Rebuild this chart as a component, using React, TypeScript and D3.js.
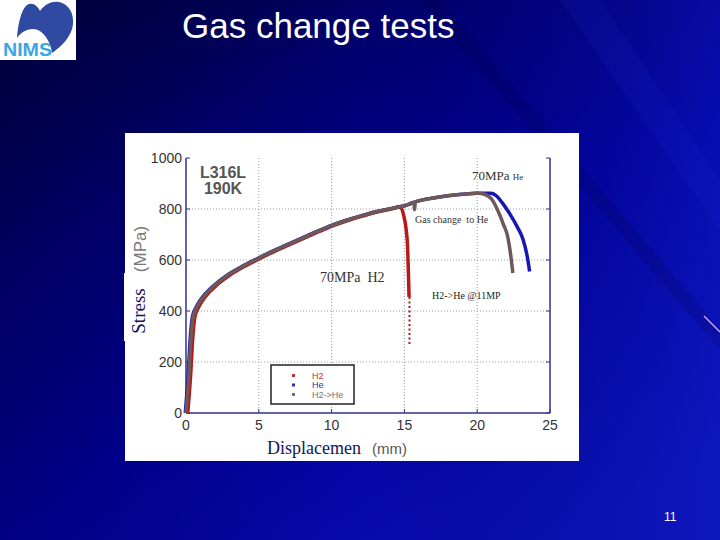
import React from "react";
import * as d3 from "d3";

// ---- data (displacement mm, stress MPa) ----
const mainX = [0, 0.2, 0.35, 0.5, 0.7, 1, 1.5, 2, 3, 4, 5, 6, 7, 8, 9, 10, 11, 12, 13, 14, 14.6];
const mainY = [0, 150, 300, 380, 410, 440, 475, 502, 545, 578, 607, 635, 660, 686, 711, 735, 755, 772, 788, 800, 808];

const h2TailX = [14.85, 15.0, 15.1, 15.15, 15.2];
const h2TailY = [770, 720, 650, 560, 455];
const h2DotX = [15.35, 15.35];
const h2DotY = [455, 267];

const heTailX = [15, 16, 17, 18, 19, 20, 21, 21.4, 21.8, 22.3, 22.8, 23.2, 23.5, 23.65];
const heTailY = [812, 832, 843, 852, 858, 862, 862, 850, 822, 780, 730, 680, 610, 555];

const chTailX = [15, 15.65, 15.7, 15.75, 16, 17, 18, 19, 20, 20.5, 21, 21.4, 21.8, 22.1, 22.3, 22.45];
const chTailY = [812, 826, 797, 827, 832, 843, 852, 858, 862, 858, 838, 796, 740, 690, 620, 549];

const xTicks = [0, 5, 10, 15, 20, 25];
const yTicks = [0, 200, 400, 600, 800, 1000];
const legendLabels = ["H2", "He", "H2->He"];
const legendColors = ["#c03030", "#3030a8", "#7a7070"];

const zip = (xs: number[], ys: number[]) => xs.map((x, i) => [x, ys[i]] as [number, number]);

export default function App() {
  const x = d3.scaleLinear().domain([0, 25]).range([186, 550]);
  const y = d3.scaleLinear().domain([0, 1000]).range([413, 158]);
  const line = d3
    .line<[number, number]>()
    .x((d) => x(d[0]))
    .y((d) => y(d[1]))
    .curve(d3.curveMonotoneX);
  const lineLin = d3
    .line<[number, number]>()
    .x((d) => x(d[0]))
    .y((d) => y(d[1]));

  const main = zip(mainX, mainY);
  const redPts = [...main, ...zip(h2TailX, h2TailY)];
  const bluePts = [...main, ...zip(heTailX, heTailY)];
  const grayPts = [...main, ...zip(chTailX, chTailY)];

  const shift = (pts: [number, number][], dx: number) => pts.map((p) => [p[0] + dx, p[1]] as [number, number]);

  return (
    <svg width={720} height={540} style={{ position: "absolute", left: 0, top: 0 }}>
      <defs>
        <linearGradient id="bg" x1="0" y1="0" x2="0.8" y2="1">
          <stop offset="0" stopColor="#000038" />
          <stop offset="0.3" stopColor="#000070" />
          <stop offset="0.6" stopColor="#00009c" />
          <stop offset="1" stopColor="#0a10b4" />
        </linearGradient>
        <linearGradient id="bg2" x1="0" y1="0" x2="1" y2="0">
          <stop offset="0" stopColor="#000030" stopOpacity="0.25" />
          <stop offset="0.5" stopColor="#000030" stopOpacity="0" />
          <stop offset="1" stopColor="#1828d8" stopOpacity="0.3" />
        </linearGradient>
      </defs>
      <rect x={0} y={0} width={720} height={540} fill="url(#bg)" />
      <rect x={0} y={0} width={720} height={540} fill="url(#bg2)" />
      <polygon points="560,0 600,0 720,180 720,230" fill="#2030e0" opacity={0.12} />
      <polygon points="420,0 440,0 720,330 720,350" fill="#000030" opacity={0.15} />
      <line x1={704} y1={316} x2={720} y2={332} stroke="#c8a8ff" strokeWidth={1.5} />

      {/* logo */}
      <rect x={0} y={0} width={76} height={60} fill="#ffffff" />
      <path
        d="M17,38 C18,24 21,10 27,5 C32,2 37,5 40,11 C45,4 52,1 59,2 C68,4 74,12 73,24 C72,36 62,46 52,53 C51,44 46,34 38,30 C30,27 22,31 17,38 Z"
        fill="#2f4aa0"
      />
      <text x={3} y={56} fontFamily="Liberation Sans, Arial, sans-serif" fontWeight="bold" fontSize={19} fill="#3aa6e6" textLength={49} lengthAdjust="spacingAndGlyphs">
        NIMS
      </text>

      {/* title */}
      <text x={182} y={38} fontFamily="Liberation Sans, Arial, sans-serif" fontSize={35} fill="#ffffff">
        Gas change tests
      </text>

      {/* chart panel */}
      <rect x={125} y={133} width={454} height={328} fill="#ffffff" />

      {/* grid */}
      {xTicks.slice(1, 5).map((t) => (
        <line key={"gx" + t} x1={x(t)} x2={x(t)} y1={y(1000)} y2={y(0)} stroke="#9a9aa8" strokeWidth={1} strokeDasharray="1,2" />
      ))}
      {yTicks.slice(1, 5).map((t) => (
        <line key={"gy" + t} x1={x(0)} x2={x(25)} y1={y(t)} y2={y(t)} stroke="#9a9aa8" strokeWidth={1} strokeDasharray="1,2" />
      ))}

      {/* axes frame */}
      <line x1={x(0)} x2={x(0)} y1={y(1000)} y2={y(0)} stroke="#303090" strokeWidth={1.5} />
      <line x1={x(25)} x2={x(25)} y1={y(1000)} y2={y(0)} stroke="#303090" strokeWidth={1.5} />
      <line x1={x(0)} x2={x(25)} y1={y(0)} y2={y(0)} stroke="#303090" strokeWidth={1.5} />
      {yTicks.map((t) => (
        <g key={"ty" + t}>
          <line x1={x(0)} x2={x(0) + 4} y1={y(t)} y2={y(t)} stroke="#303090" strokeWidth={1} />
          <line x1={x(25)} x2={x(25) - 4} y1={y(t)} y2={y(t)} stroke="#303090" strokeWidth={1} />
          <text x={182} y={y(t) + 5} textAnchor="end" fontFamily="Liberation Sans, Arial, sans-serif" fontSize={14} fill="#333">
            {t}
          </text>
        </g>
      ))}
      {xTicks.map((t) => (
        <g key={"tx" + t}>
          <line x1={x(t)} x2={x(t)} y1={y(0)} y2={y(0) - 4} stroke="#303090" strokeWidth={1} />
          <text x={x(t)} y={430} textAnchor="middle" fontFamily="Liberation Sans, Arial, sans-serif" fontSize={14} fill="#333">
            {t}
          </text>
        </g>
      ))}

      {/* curves */}
      <path d={line(shift(redPts, 0.12)) || ""} fill="none" stroke="#b81818" strokeWidth={3.5} strokeLinejoin="round" />
      <path d={lineLin(zip(h2DotX, h2DotY)) || ""} fill="none" stroke="#a01818" strokeWidth={2} strokeDasharray="2,2.5" />
      <path d={line(shift(bluePts, -0.05)) || ""} fill="none" stroke="#1818b0" strokeWidth={3.5} strokeLinejoin="round" />
      <path d={line(grayPts) || ""} fill="none" stroke="#6e5858" strokeWidth={3.5} strokeLinejoin="round" />

      {/* annotations */}
      <text x={223} y={178} textAnchor="middle" fontFamily="Liberation Sans, Arial, sans-serif" fontWeight="bold" fontSize={16} fill="#555">
        L316L
      </text>
      <text x={223} y={194} textAnchor="middle" fontFamily="Liberation Sans, Arial, sans-serif" fontWeight="bold" fontSize={16} fill="#555">
        190K
      </text>
      <text x={472} y={180} fontFamily="Liberation Serif, Times New Roman, serif" fontSize={13} fill="#333">
        70MPa <tspan fontSize={9}>He</tspan>
      </text>
      <text x={415} y={223} fontFamily="Liberation Serif, Times New Roman, serif" fontSize={10} fill="#333" xmlSpace="preserve">
        Gas change  to He
      </text>
      <text x={320} y={282} fontFamily="Liberation Serif, Times New Roman, serif" fontSize={14} fill="#333" xmlSpace="preserve">
        70MPa  H2
      </text>
      <text x={432} y={299} fontFamily="Liberation Serif, Times New Roman, serif" fontSize={10} fill="#222">
        H2-&gt;He @11MP
      </text>

      {/* y labels */}
      <text transform="translate(146,249) rotate(-90)" textAnchor="middle" fontFamily="Liberation Sans, Arial, sans-serif" fontSize={17} fill="#777">
        (MPa)
      </text>
      <rect x={124} y={273} width={27} height={68} fill="#ffffff" />
      <text transform="translate(145,311) rotate(-90)" textAnchor="middle" fontFamily="Liberation Serif, Times New Roman, serif" fontSize={19} fill="#14145a">
        Stress
      </text>

      {/* x label */}
      <text x={267} y={454} fontFamily="Liberation Serif, Times New Roman, serif" fontSize={18} fill="#14145a">
        Displacemen
      </text>
      <text x={372} y={454} fontFamily="Liberation Sans, Arial, sans-serif" fontSize={15} fill="#555">
        (mm)
      </text>

      {/* legend */}
      <rect x={271} y={365} width={83} height={39} fill="#ffffff" stroke="#222" strokeWidth={1.5} />
      {legendLabels.map((l, i) => (
        <g key={l}>
          <rect x={292} y={374 + i * 9.5} width={3} height={3} fill={legendColors[i]} />
          <text x={312} y={378.5 + i * 9.5} fontFamily="Liberation Sans, Arial, sans-serif" fontSize={9} fill={legendColors[i]}>
            {l}
          </text>
        </g>
      ))}

      {/* page number */}
      <text x={664} y={521} fontFamily="Liberation Sans, Arial, sans-serif" fontSize={12} fill="#ffffff">
        11
      </text>
    </svg>
  );
}
